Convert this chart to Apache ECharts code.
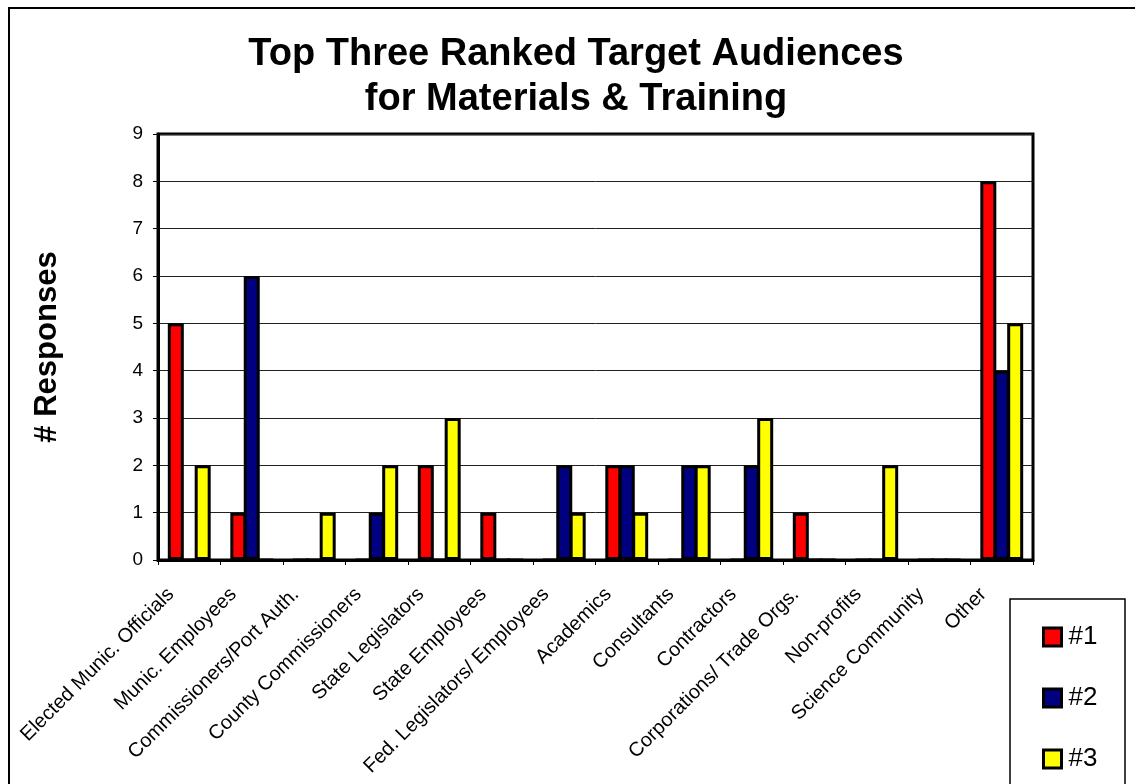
<!DOCTYPE html>
<html>
<head>
<meta charset="utf-8">
<script src="https://cdn.jsdelivr.net/npm/echarts@6/dist/echarts.min.js"></script>
<style>html,body{margin:0;padding:0;background:#fff;}#c{width:1135px;height:784px;}</style>
</head>
<body>
<div id="c"></div>
<script>
var categories = ['Elected Munic. Officials','Munic. Employees','Commissioners/Port Auth.','County Commissioners','State Legislators','State Employees','Fed. Legislators/ Employees','Academics','Consultants','Contractors','Corporations/ Trade Orgs.','Non-profits','Science Community','Other'];
var rank1 = [5,1,0,0,2,1,0,2,0,0,1,0,0,8];
var rank2 = [0,6,0,1,0,0,2,2,2,2,0,0,0,4];
var rank3 = [2,0,1,2,3,0,1,1,2,3,0,2,0,5];
var seriesNames = ['#1','#2','#3'];
var yTicks = [0,1,2,3,4,5,6,7,8,9];

var FONT = 'Arial, "Liberation Sans", Helvetica, sans-serif';
var chart = echarts.init(document.getElementById('c'));
function bar(name, data, color){
  return {name:name, type:'bar', data:data, barGap:'-16%', barWidth:16,
    itemStyle:{color:color, borderColor:'#000', borderWidth:3}, emphasis:{disabled:true}};
}
chart.setOption({
  animation:false,
  backgroundColor:'#fff',
  textStyle:{fontFamily:FONT},
  grid:{left:158, top:134, width:875, height:426, show:true, borderColor:'#000', borderWidth:3, backgroundColor:'transparent'},
  graphic:[
    {type:'rect', z:0, shape:{x:9, y:8, width:1140, height:790}, style:{fill:'none', stroke:'#000', lineWidth:2}},
    {type:'rect', z:1, shape:{x:1010, y:599, width:115, height:200}, style:{fill:'#fff', stroke:'#000', lineWidth:1.5}},
    {type:'text', z:2, x:576, y:32, style:{text:'Top Three Ranked Target Audiences\nfor Materials & Training', font:'bold 38px ' + FONT, fontSize:38, fontWeight:'bold', fontFamily:FONT, lineHeight:45, textAlign:'center', align:'center', fill:'#000'}}
  ],
  legend:{orient:'vertical', left:1037, top:619, z:10, itemWidth:18, itemHeight:18, itemGap:35,
    data:seriesNames, icon:'rect',
    itemStyle:{borderColor:'#000', borderWidth:3},
    textStyle:{fontSize:26, color:'#000', fontFamily:FONT, padding:[0,0,0,2]}},
  xAxis:{type:'category', data:categories,
    axisLine:{lineStyle:{color:'#000', width:3}},
    axisTick:{show:true, length:5, lineStyle:{color:'#000', width:1}},
    axisLabel:{rotate:45, fontSize:20, color:'#000', margin:13, padding:[0,26,0,0], interval:0}},
  yAxis:{type:'value', min:0, max:9, interval:1,
    name:'# Responses', nameLocation:'middle', nameRotate:90, nameGap:95,
    nameTextStyle:{fontSize:31, fontWeight:'bold', color:'#000'},
    axisLine:{show:true, lineStyle:{color:'#000', width:3}},
    axisTick:{show:true, length:5, lineStyle:{color:'#000', width:1}},
    axisLabel:{fontSize:19, color:'#000', margin:15, formatter:function(v){return yTicks.indexOf(v)>=0? String(v):'';}},
    splitLine:{show:true, lineStyle:{color:'#222', width:1}}},
  series:[bar(seriesNames[0], rank1, '#FF0000'), bar(seriesNames[1], rank2, '#000080'), bar(seriesNames[2], rank3, '#FFFF00')]
});
</script>
</body>
</html>
